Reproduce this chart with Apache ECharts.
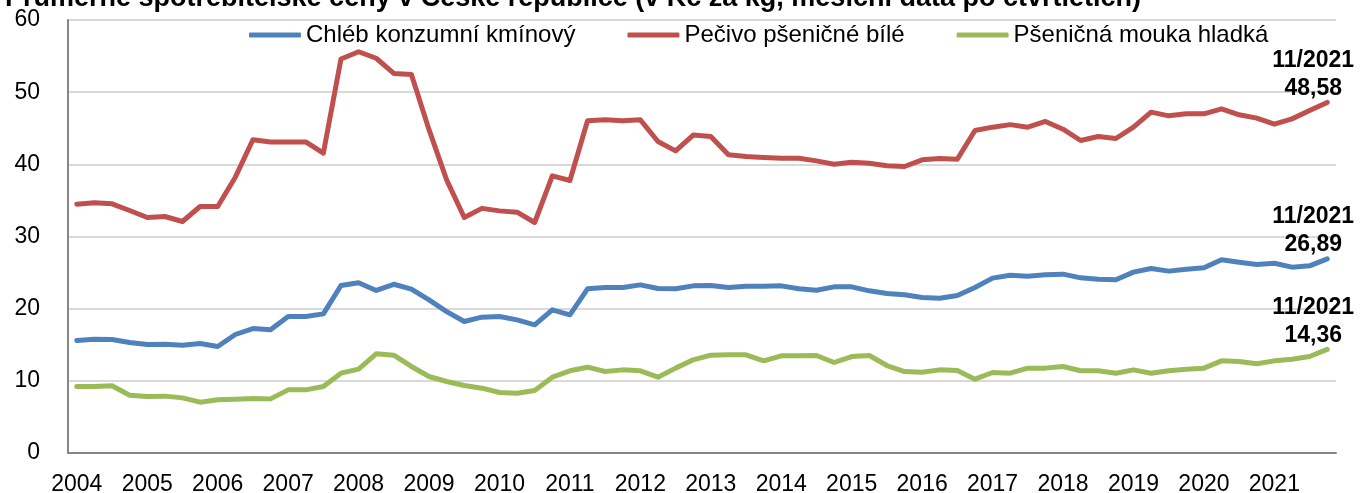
<!DOCTYPE html>
<html>
<head>
<meta charset="utf-8">
<title>Spotřebitelské ceny</title>
<script src="https://cdn.jsdelivr.net/npm/echarts@6/dist/echarts.min.js"></script>
<style>
  html, body { margin: 0; padding: 0; background: #fff; }
  #chart { width: 1362px; height: 493px; }
</style>
</head>
<body>
<div id="chart"></div>
<script>
// ctvrtletni data (unor, kveten, srpen, listopad) 2004-2021
var years = [];
for (var y = 2004; y <= 2021; y++) years.push(y);
var months = [2, 5, 8, 11];
var categories = [];
years.forEach(function (y) {
    months.forEach(function (m) { categories.push(m + '/' + y); });
});

var chleb = [
    15.59, 15.77, 15.73, 15.31, 15.03, 15.08, 14.94, 15.17, 14.76, 16.42, 17.25, 17.07,
    18.91, 18.91, 19.28, 23.21, 23.58, 22.52, 23.38, 22.70, 21.22, 19.60, 18.22, 18.82,
    18.91, 18.45, 17.76, 19.84, 19.15, 22.75, 22.93, 22.93, 23.30, 22.79, 22.75, 23.16,
    23.21, 22.93, 23.12, 23.12, 23.16, 22.75, 22.56, 23.02, 23.02, 22.47, 22.10, 21.92,
    21.55, 21.45, 21.82, 22.93, 24.23, 24.64, 24.50, 24.69, 24.78, 24.27, 24.09, 24.00,
    25.06, 25.57, 25.20, 25.47, 25.66, 26.77, 26.44, 26.12, 26.30, 25.75, 25.94, 26.89
];
var pecivo = [
    34.48, 34.67, 34.53, 33.60, 32.63, 32.77, 32.08, 34.16, 34.16, 38.22, 43.40, 43.10,
    43.10, 43.10, 41.55, 54.60, 55.60, 54.70, 52.60, 52.45, 44.80, 37.85, 32.63, 33.90,
    33.55, 33.37, 31.94, 38.40, 37.76, 46.03, 46.17, 46.03, 46.17, 43.16, 41.87, 44.05,
    43.86, 41.32, 41.09, 40.95, 40.85, 40.85, 40.48, 40.02, 40.30, 40.16, 39.80, 39.70,
    40.62, 40.80, 40.72, 44.69, 45.15, 45.50, 45.15, 45.94, 44.87, 43.30, 43.86, 43.58,
    45.15, 47.23, 46.72, 47.00, 47.00, 47.69, 46.86, 46.40, 45.57, 46.30, 47.46, 48.58
];
var mouka = [
    9.21, 9.21, 9.31, 8.01, 7.83, 7.88, 7.64, 7.04, 7.37, 7.46, 7.55, 7.50,
    8.75, 8.75, 9.21, 11.06, 11.62, 13.74, 13.55, 11.99, 10.60, 9.91, 9.35, 8.98,
    8.38, 8.29, 8.66, 10.51, 11.39, 11.89, 11.29, 11.52, 11.39, 10.51, 11.76, 12.91,
    13.56, 13.60, 13.60, 12.77, 13.46, 13.46, 13.51, 12.54, 13.37, 13.51, 12.12, 11.29,
    11.20, 11.52, 11.43, 10.23, 11.15, 11.06, 11.76, 11.76, 11.99, 11.39, 11.39, 11.06,
    11.52, 11.06, 11.39, 11.62, 11.76, 12.77, 12.68, 12.36, 12.77, 13.00, 13.37, 14.36
];

var seriesNames = ['Chléb konzumní kmínový', 'Pečivo pšeničné bílé', 'Pšeničná mouka hladká'];
var seriesColors = ['#4F81BD', '#C0504D', '#9BBB59'];
var seriesValues = [chleb, pecivo, mouka];

var font = 'Liberation Sans, Arial, sans-serif';

// popisek jen u posledniho bodu
function withLastLabel(values) {
    return values.map(function (v, i) {
        if (i < values.length - 1) return v;
        return {
            value: v,
            label: {
                show: true,
                position: 'top',
                distance: 0,
                offset: [-14, 0],
                fontFamily: font,
                fontSize: 23,
                fontWeight: 'bold',
                lineHeight: 28,
                color: '#000',
                formatter: function (p) {
                    return p.name + '\n' + p.value.toFixed(2).replace('.', ',');
                }
            }
        };
    });
}

var chart = echarts.init(document.getElementById('chart'));
chart.setOption({
    animation: false,
    title: {
        text: 'Průměrné spotřebitelské ceny v České republice (v Kč za kg, měsíční data po čtvrtletích)',
        left: 0,
        top: -20,
        textStyle: { fontFamily: font, fontSize: 27, fontWeight: 'bold', color: '#000' }
    },
    grid: { left: 68, right: 26, top: 20, bottom: 40, containLabel: false, outerBoundsMode: 'none' },
    legend: {
        left: 244,
        top: 18,
        itemWidth: 52,
        itemHeight: 5,
        itemGap: 52,
        icon: 'roundRect',
        textStyle: { fontFamily: font, fontSize: 24, color: '#000' },
        data: seriesNames
    },
    xAxis: {
        type: 'category',
        data: categories,
        boundaryGap: true,
        axisLine: { lineStyle: { color: '#868686', width: 2 } },
        axisTick: { show: false },
        axisLabel: {
            interval: 3,
            margin: 20,
            fontFamily: font,
            fontSize: 23,
            color: '#000',
            formatter: function (v) { return v.split('/')[1]; }
        }
    },
    yAxis: {
        type: 'value',
        min: 0,
        max: 60,
        interval: 10,
        axisLine: { show: true, lineStyle: { color: '#868686', width: 2 } },
        axisTick: { show: false },
        axisLabel: { margin: 28, fontFamily: font, fontSize: 23, color: '#000' },
        splitLine: { lineStyle: { color: '#D9D9D9', width: 2 } }
    },
    series: seriesNames.map(function (name, k) {
        return {
            name: name,
            type: 'line',
            data: withLastLabel(seriesValues[k]),
            color: seriesColors[k],
            symbol: 'circle',
            symbolSize: 0,
            showSymbol: true,
            lineStyle: { width: 5, color: seriesColors[k], cap: 'round', join: 'round' }
        };
    })
});
</script>
</body>
</html>
